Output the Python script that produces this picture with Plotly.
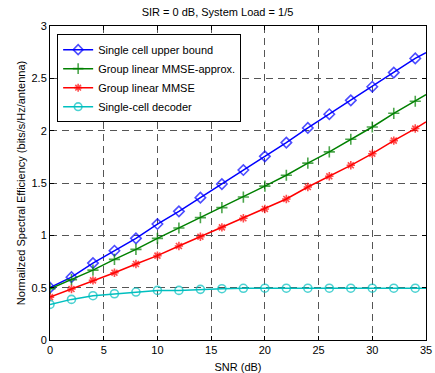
import plotly.graph_objects as go

snr = [0, 2, 4, 6, 8, 10, 12, 14, 16, 18, 20, 22, 24, 26, 28, 30, 32, 34, 35]
upper = [0.50, 0.60, 0.735, 0.853, 0.971, 1.108, 1.229, 1.36, 1.49, 1.624, 1.755, 1.886,
         2.026, 2.157, 2.29, 2.42, 2.555, 2.69, 2.745]
mmse_approx = [0.49, 0.576, 0.668, 0.77, 0.866, 0.971, 1.07, 1.169, 1.265, 1.366, 1.47, 1.574,
               1.69, 1.797, 1.918, 2.035, 2.166, 2.281, 2.345]
mmse = [0.41, 0.487, 0.57, 0.643, 0.726, 0.806, 0.898, 0.987, 1.076, 1.163, 1.252, 1.347,
        1.462, 1.564, 1.669, 1.78, 1.905, 2.02, 2.083]
single = [0.34, 0.388, 0.423, 0.442, 0.458, 0.474, 0.474, 0.484, 0.49, 0.494, 0.495, 0.495,
          0.495, 0.495, 0.495, 0.495, 0.495, 0.495, 0.495]

names = ["Single cell upper bound", "Group linear MMSE-approx.", "Group linear MMSE",
         "Single-cell decoder"]
colors = ["#0000FF", "#008000", "#FF0000", "#00BFBF"]
symbols = ["diamond-open", "cross-thin-open", "asterisk-open", "circle-open"]
msizes = [8, 8, 7, 8]

font = "Liberation Sans, Arial, sans-serif"
fig = go.Figure()
for name, ys, c, s, ms in zip(names, [upper, mmse_approx, mmse, single], colors, symbols, msizes):
    sizes = [ms] * (len(snr) - 1) + [0]
    fig.add_trace(go.Scatter(
        x=snr, y=ys, name=name, mode="lines+markers",
        line=dict(color=c, width=1.5),
        marker=dict(symbol=s, size=sizes, color=c, line=dict(color=c, width=1.6)),
    ))

axis_common = dict(
    showline=True, linecolor="black", linewidth=1, mirror="ticks",
    ticks="inside", ticklen=4, tickcolor="black",
    showgrid=True, gridcolor="#555555", griddash="7px,5px", gridwidth=1,
    zeroline=False, tickfont=dict(family=font, size=11, color="black"),
)
fig.update_xaxes(range=[0, 35], tickvals=[0, 5, 10, 15, 20, 25, 30, 35], automargin=False,
                 title=dict(text="SNR (dB)", font=dict(family=font, size=11, color="black")),
                 **axis_common)
fig.update_yaxes(range=[0, 3], tickvals=[0, 0.5, 1, 1.5, 2, 2.5, 3],
                 ticktext=["0", "0.5", "1", "1.5", "2", "2.5", "3"], automargin=True,
                 title=dict(text="Normailzed Spectral Efficiency (bits/s/Hz/antenna)",
                            font=dict(family=font, size=11, color="black"), standoff=3),
                 **axis_common)

fig.update_layout(
    width=435, height=373,
    margin=dict(l=50, r=9, t=26, b=33, autoexpand=False),
    paper_bgcolor="white", plot_bgcolor="white",
    title=dict(text="SIR = 0 dB, System Load = 1/5", x=0.5, xanchor="center",
               y=0.968, yanchor="middle", font=dict(family=font, size=11, color="black")),
    legend=dict(x=0.019, y=0.974, xanchor="left", yanchor="top",
                bgcolor="white", bordercolor="black", borderwidth=1,
                font=dict(family=font, size=11, color="black"),
                tracegroupgap=0, itemwidth=30),
    showlegend=True,
)
fig.write_html(
    "out.html",
    config={"displayModeBar": False},
    post_script="document.body.style.margin='0';document.body.style.overflow='hidden';",
)
